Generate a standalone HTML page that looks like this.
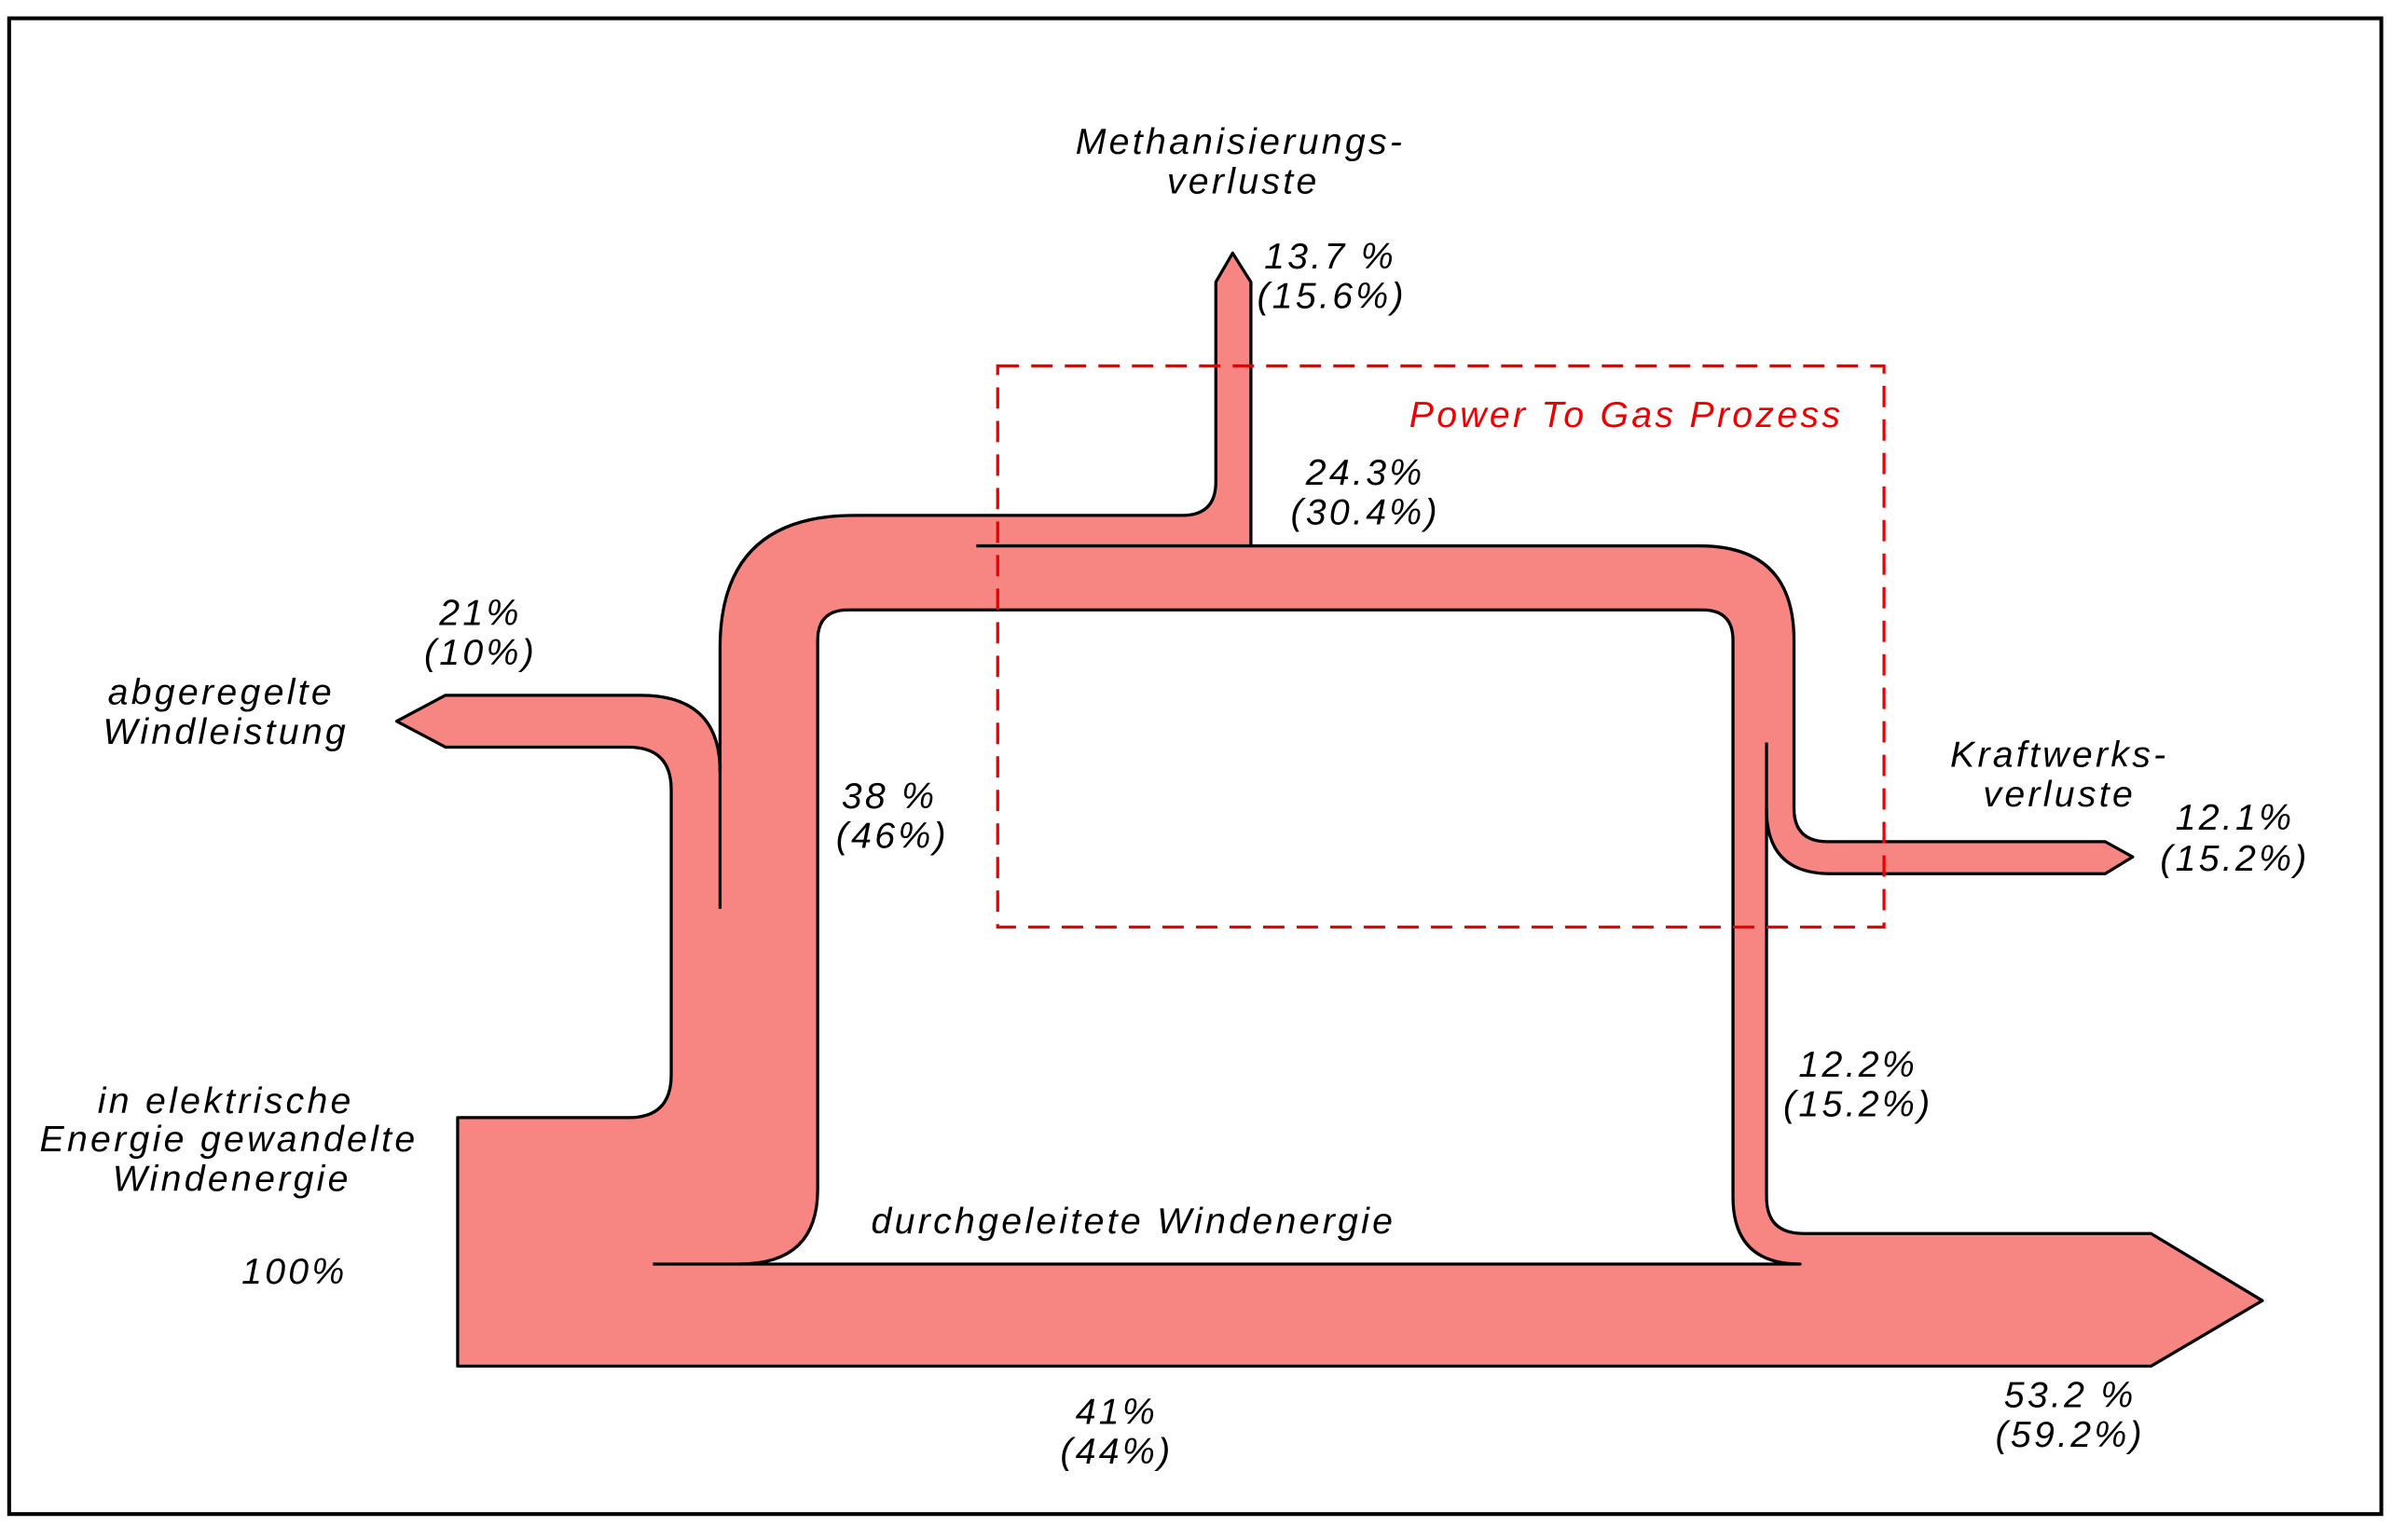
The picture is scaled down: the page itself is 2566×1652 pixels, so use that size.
<!DOCTYPE html>
<html><head><meta charset="utf-8"><style>
html,body{margin:0;padding:0;background:#fff;}
svg{display:block;}
text{font-family:"Liberation Sans",sans-serif;font-style:italic;font-size:24px;fill:#000;text-anchor:middle;letter-spacing:2px;}
</style></head><body>
<svg width="2566" height="1652" viewBox="0 0 1568 1010" preserveAspectRatio="none" xmlns="http://www.w3.org/2000/svg">
<rect x="0" y="0" width="1568" height="1010" fill="#fff"/>
<rect x="6" y="12" width="1555" height="981" fill="none" stroke="#000" stroke-width="2.5"/>
<path fill-rule="evenodd" fill="#f78582" stroke="#000" stroke-width="2" stroke-linejoin="round" d="
M300,896 L1410,896 L1483,853 L1410,809 L1182,809 Q1158,809 1158,785 L1158,531 Q1158,573 1200,573 L1380,573 L1398,562 L1380,552 L1198,552 Q1176,552 1176,530 L1176,420 Q1176,358 1114,358 L820,358 L820,185 L808,166 L797,185 L797,316 Q797,338 775,338 L560,338 Q472,338 472,425 L472,506 Q472,456 420,456 L292,456 L260,473 L292,490 L412,490 Q440,490 440,518 L440,705 Q440,733 412,733 L300,733 Z
M536,420 Q536,400 556,400 L1116,400 Q1136,400 1136,420 L1136,785 Q1136,829 1180,829 L485,829 Q536,829 536,780 Z"/>
<g stroke="#000" stroke-width="2" fill="none">
<line x1="472" y1="500" x2="472" y2="596"/>
<line x1="640" y1="358" x2="820" y2="358"/>
<line x1="1158" y1="487" x2="1158" y2="535"/>
<line x1="428" y1="829" x2="486" y2="829"/>
</g>
<rect x="654" y="240" width="581" height="368" fill="none" stroke="#e00" stroke-width="2" stroke-dasharray="14,8"/>
<text x="1066" y="280" style="fill:#e00;text-anchor:middle">Power To Gas Prozess</text>
<text x="813" y="101">Methanisierungs-</text>
<text x="815" y="127">verluste</text>
<text x="872" y="176">13.7 %</text>
<text x="873" y="202">(15.6%)</text>
<text x="895" y="318">24.3%</text>
<text x="895" y="344">(30.4%)</text>
<text x="315" y="410">21%</text>
<text x="315" y="436">(10%)</text>
<text x="145" y="462">abgeregelte</text>
<text x="148" y="488">Windleistung</text>
<text x="583" y="530">38 %</text>
<text x="585" y="556">(46%)</text>
<text x="1350" y="503">Kraftwerks-</text>
<text x="1350" y="529">verluste</text>
<text x="1465" y="544">12.1%</text>
<text x="1465" y="571">(15.2%)</text>
<text x="1218" y="706">12.2%</text>
<text x="1218" y="732">(15.2%)</text>
<text x="148" y="730">in elektrische</text>
<text x="150" y="755">Energie gewandelte</text>
<text x="152" y="781">Windenergie</text>
<text x="193" y="842">100%</text>
<text x="743" y="809">durchgeleitete Windenergie</text>
<text x="732" y="934">41%</text>
<text x="732" y="960">(44%)</text>
<text x="1357" y="923">53.2 %</text>
<text x="1357" y="949">(59.2%)</text>
</svg>
</body></html>
